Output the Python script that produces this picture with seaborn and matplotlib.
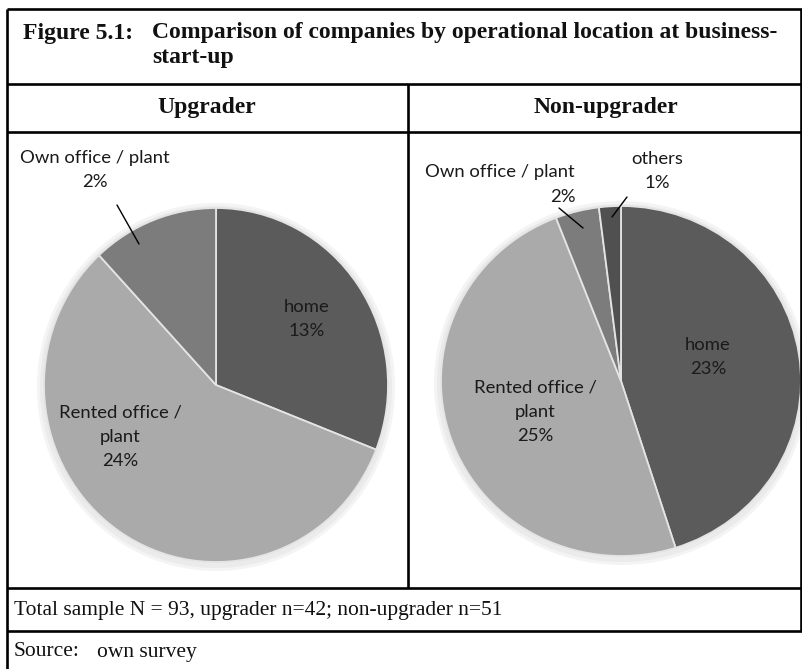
import matplotlib
matplotlib.use("Agg")
import matplotlib.pyplot as plt
import seaborn as sns

sns.set_theme(style="white")

# ---------------- data ----------------
categories_up = ["home", "Rented office /\nplant", "Own office / plant"]
values_up = [13, 24, 5]
labels_up = ["home\n13%", "Rented office /\nplant\n24%", "Own office / plant\n2%"]

categories_non = ["home", "Rented office /\nplant", "Own office / plant", "others"]
values_non = [23, 25, 2, 1]
labels_non = ["home\n23%", "Rented office /\nplant\n25%", "Own office / plant", "others\n1%"]
label_non_own_pct = "2%"

title_num = "Figure 5.1:"
title_text = "Comparison of companies by operational location at business-\nstart-up"
header_up = "Upgrader"
header_non = "Non-upgrader"
footer_sample = "Total sample N = 93, upgrader n=42; non-upgrader n=51"
footer_source_key = "Source:"
footer_source_val = "own survey"

# ---------------- style ----------------
W, H = 802, 669
colors_up = ["#5b5b5b", "#aaaaaa", "#7c7c7c"]
colors_non = ["#5b5b5b", "#aaaaaa", "#7c7c7c", "#505050"]
serif = ["Liberation Serif", "DejaVu Serif"]
sans = ["Lato", "DejaVu Sans"]

fig = plt.figure(figsize=(W / 100, H / 100), dpi=100)
fig.patch.set_facecolor("white")


def pie_axes(cx, cy, rx, ry):
    return fig.add_axes([(cx - rx) / W, 1 - (cy + ry) / H, 2 * rx / W, 2 * ry / H])


def draw_pie(ax, vals, cols):
    ax.pie(vals, colors=cols, startangle=90, counterclock=False,
           wedgeprops=dict(edgecolor="#e4e4e4", linewidth=1.3))
    ax.set_aspect("auto")
    ax.set_xlim(-1.0, 1.0)
    ax.set_ylim(-1.0, 1.0)
    ax.axis("off")


# faint shadow rings
for (cx, cy, rx, ry) in [(216, 385, 172, 177), (621, 381, 180, 175)]:
    for grow, col in [(7, "#f4f4f4"), (4, "#ebebeb")]:
        sh = pie_axes(cx, cy + 2, rx + grow, ry + grow)
        sh.pie([1], colors=[col], wedgeprops=dict(linewidth=0))
        sh.set_aspect("auto"); sh.set_xlim(-1, 1); sh.set_ylim(-1, 1); sh.axis("off")

ax_up = pie_axes(216, 385, 172, 177)
draw_pie(ax_up, values_up, colors_up)
ax_non = pie_axes(621, 381, 180, 175)
draw_pie(ax_non, values_non, colors_non)

# overlay in pixel coordinates
ov = fig.add_axes([0, 0, 1, 1])
ov.set_xlim(0, W)
ov.set_ylim(H, 0)
ov.axis("off")
ov.patch.set_alpha(0)

lw = 1.9
xl, xr, xm = 7, 800.5, 408
y_top, y_t, y_h, y_p, y_f = 9, 84, 132, 588, 631
for y in [y_top, y_t, y_h, y_p, y_f]:
    ov.plot([xl, W], [y, y], color="black", lw=lw, solid_capstyle="butt")
ov.plot([xl, xl], [y_top, H], color="black", lw=lw, solid_capstyle="butt")
ov.plot([xr, xr], [y_top, y_f], color="black", lw=lw, solid_capstyle="butt")
ov.plot([xm, xm], [y_t, y_p], color="black", lw=lw, solid_capstyle="butt")

# title and headers
tkw = dict(fontsize=17, fontweight="bold", family=serif, color="#111111")
ov.text(23, 33, title_num, va="center", ha="left", **tkw)
ov.text(152, 45, title_text, va="center", ha="left", linespacing=1.2, **tkw)
ov.text(207, 108, header_up, va="center", ha="center", **tkw)
ov.text(606, 108, header_non, va="center", ha="center", **tkw)

# footers
fkw = dict(fontsize=15.5, family=serif, va="center", ha="left", color="#111111")
ov.text(14, 611, footer_sample, **fkw)
ov.text(14, 652, footer_source_key, **fkw)
ov.text(97, 652, footer_source_val, **fkw)

# pie labels
lab_kw = dict(fontsize=13.3, family=sans, va="center", ha="center", color="#1a1a1a",
              linespacing=1.62)
pos_up = [(307, 319), (120, 437), (95, 170)]
for (x, y), t in zip(pos_up, labels_up):
    ov.text(x, y, t, **lab_kw)
ov.plot([117, 139], [205, 244], color="black", lw=1.0)

pos_non = [(708, 357), (535, 412), (500, 172), (657, 171)]
for (x, y), t in zip(pos_non, labels_non):
    ov.text(x, y, t, **lab_kw)
ov.text(563, 197, label_non_own_pct, **lab_kw)
ov.plot([559, 583], [208, 228], color="black", lw=1.0)
ov.plot([627, 612], [197, 217], color="black", lw=1.0)

fig.savefig("out.png", dpi=100, facecolor="white")
